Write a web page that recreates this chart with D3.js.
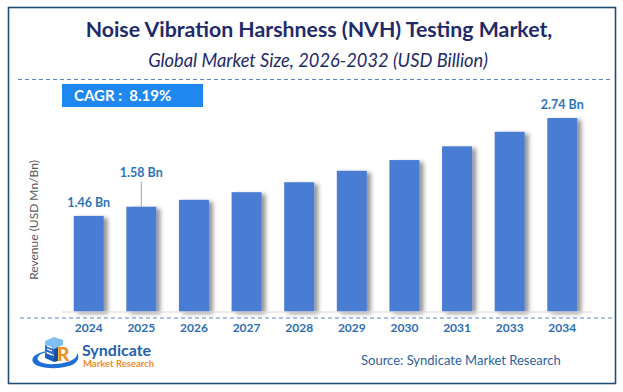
<!DOCTYPE html>
<html>
<head>
<meta charset="utf-8">
<script src="https://cdn.jsdelivr.net/npm/d3@7"></script>
<style>
  html, body { margin: 0; padding: 0; background: #fff; }
  svg { display: block; }
  text { font-family: Lato, "Open Sans", sans-serif; }
</style>
</head>
<body>
<script>
// ---- data ----
const years = ["2024", "2025", "2026", "2027", "2028", "2029", "2030", "2031", "2033", "2034"];
const revenue = [1.46, 1.58, 1.67, 1.77, 1.90, 2.05, 2.19, 2.37, 2.56, 2.74];
const labelledYears = ["2024", "2025", "2034"];
const labelTexts = ["1.46 Bn", "1.58 Bn", "2.74 Bn"];
const titleText = "Noise Vibration Harshness (NVH) Testing Market,";
const subtitleText = "Global Market Size, 2026-2032 (USD Billion)";
const cagrText = "CAGR :  8.19%";
const yAxisTitle = "Revenue (USD Mn/Bn)";
const sourceText = "Source: Syndicate Market Research";
const axisMin = 0.21;

const W = 623, H = 392;
const svg = d3.select("body").append("svg").attr("width", W).attr("height", H);

const defs = svg.append("defs");
const f = defs.append("filter").attr("id", "shadow").attr("x", "-20%").attr("y", "-10%").attr("width", "160%").attr("height", "130%");
f.append("feDropShadow").attr("dx", 4).attr("dy", 2).attr("stdDeviation", 2.2)
  .attr("flood-color", "#000").attr("flood-opacity", 0.42);

// frame
svg.append("rect").attr("x", 8.5).attr("y", 7.5).attr("width", 607).attr("height", 376)
  .attr("fill", "#fff").attr("stroke", "#1f4e79").attr("stroke-width", 1.6);

// titles
svg.append("text").attr("x", 319).attr("y", 37).attr("text-anchor", "middle")
  .attr("font-size", 21.3).attr("font-weight", 700).attr("fill", "#1f2a6b").text(titleText);
svg.append("text").attr("x", 318).attr("y", 67).attr("text-anchor", "middle")
  .attr("font-size", 18.3).attr("font-style", "italic").attr("fill", "#1f2a6b").text(subtitleText);

// dashed separators
svg.append("line").attr("x1", 18).attr("x2", 611).attr("y1", 79.5).attr("y2", 79.5)
  .attr("stroke", "#5b86c9").attr("stroke-width", 1).attr("stroke-dasharray", "4,3");

// CAGR box
svg.append("rect").attr("x", 62).attr("y", 84).attr("width", 141).attr("height", 23).attr("fill", "#1e88f0");
svg.append("text").attr("x", 74).attr("y", 101).attr("font-size", 15).attr("font-weight", 700)
  .attr("fill", "#fff").attr("xml:space", "preserve").style("white-space", "pre").text(cagrText);

// scales
const x = d3.scaleBand().domain(years).range([59.5, 591.5]).paddingInner(0.43).paddingOuter(0.27);
const y = d3.scaleLinear().domain([axisMin, d3.max(revenue)]).range([311.5, 118]);

// bars
svg.append("g").selectAll("rect").data(years).join("rect")
  .attr("x", d => x(d))
  .attr("y", (d, i) => y(revenue[i]))
  .attr("width", x.bandwidth())
  .attr("height", (d, i) => y(axisMin) - y(revenue[i]))
  .attr("fill", "#4a7bd3")
  .attr("filter", "url(#shadow)");

// baseline axis line
svg.append("line").attr("x1", 62).attr("x2", 593).attr("y1", 312).attr("y2", 312)
  .attr("stroke", "#d9d9d9").attr("stroke-width", 1.2);
svg.append("line").attr("x1", 20).attr("x2", 613).attr("y1", 318).attr("y2", 318)
  .attr("stroke", "#5b86c9").attr("stroke-width", 1).attr("stroke-dasharray", "4,3");

// x axis labels via d3 axis
const xAxis = svg.append("g").attr("transform", "translate(0,318)")
  .call(d3.axisBottom(x).tickSize(0).tickPadding(5));
xAxis.select(".domain").remove();
xAxis.selectAll("text").attr("font-size", 12).attr("font-weight", 700).attr("fill", "#2e6db4")
  .attr("font-family", "Lato, sans-serif");

// value labels
labelledYears.forEach((yr, k) => {
  const i = years.indexOf(yr);
  const cx = x(yr) + x.bandwidth() / 2;
  let ly = y(revenue[i]) - 9;
  if (yr === "2025") {
    ly = y(revenue[i]) - 30;
    svg.append("line").attr("x1", cx).attr("x2", cx).attr("y1", ly + 5).attr("y2", y(revenue[i]))
      .attr("stroke", "#a6a6a6").attr("stroke-width", 1);
  }
  svg.append("text").attr("x", cx).attr("y", ly).attr("text-anchor", "middle")
    .attr("font-size", 12.5).attr("font-weight", 700).attr("fill", "#2e75b6").text(labelTexts[k]);
});

// y axis title
svg.append("text").attr("transform", "translate(38,220) rotate(-90)").attr("text-anchor", "middle")
  .attr("font-size", 12).attr("fill", "#595959").text(yAxisTitle);

// source
svg.append("text").attr("x", 361).attr("y", 365).attr("font-size", 13).attr("fill", "#2f5fa0").text(sourceText);

// logo
const logo = svg.append("g");
// swoosh ellipse
logo.append("path").attr("d", "M60,350 C40,350 30,356 33,362 C36,369 60,370 72,365 C78,362 80,357 77,353 C78,358 70,363 56,364 C42,365 36,361 38,357 C40,353 48,351 60,350 Z")
  .attr("fill", "#1d6fd6");
// books / blocks
logo.append("path").attr("d", "M45,341 L54,337 L63,340 L63,345 L54,349 L45,345 Z").attr("fill", "#7fc0f2");
logo.append("path").attr("d", "M45,345 L54,349 L54,355 L45,351 Z").attr("fill", "#2c6ecf");
logo.append("path").attr("d", "M45,352 L54,356 L54,362 L45,358 Z").attr("fill", "#1f5fbf");
logo.append("path").attr("d", "M54,349 L58,347 L58,361 L54,362 Z").attr("fill", "#174f9f");
logo.append("path").attr("d", "M47,346 L52,348 M47,353 L52,355 M47,349 L52,351").attr("stroke", "#fff").attr("stroke-width", 1.2);
logo.append("text").attr("x", 57).attr("y", 361).attr("font-size", 19).attr("font-weight", 900).attr("fill", "#f28c28").text("R");
logo.append("text").attr("x", 82).attr("y", 356).attr("font-size", 16).attr("font-weight", 700).attr("fill", "#2560b0").text("Syndicate");
logo.append("text").attr("x", 83).attr("y", 367).attr("font-size", 9.5).attr("font-weight", 700).attr("fill", "#f28c28").text("Market Research");
</script>
</body>
</html>
